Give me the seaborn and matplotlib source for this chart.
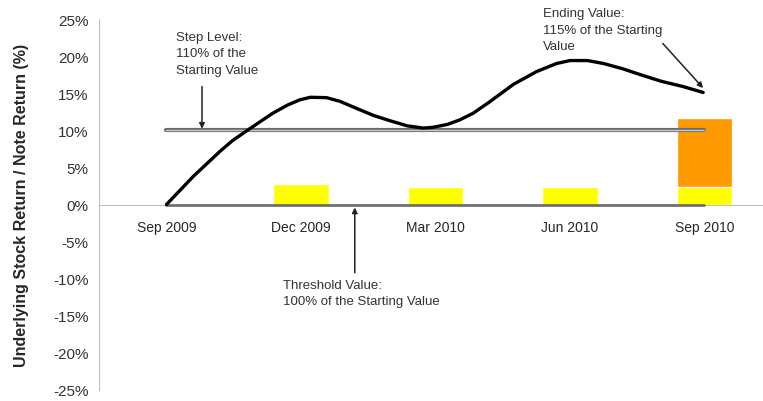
import numpy as np
import pandas as pd
import seaborn as sns
import matplotlib.pyplot as plt
import matplotlib.patheffects as pe

# observation dates (categorical positions 0..4)
dates = ["Sep 2009", "Dec 2009", "Mar 2010", "Jun 2010", "Sep 2010"]

# stock return path (x in date positions, y in %)
path_x = [0.00, 0.10, 0.20, 0.30, 0.40, 0.49, 0.61, 0.70, 0.79, 0.90, 0.99,
          1.07, 1.19, 1.29, 1.42, 1.54, 1.66, 1.79, 1.91, 1.98, 2.09, 2.18,
          2.28, 2.40, 2.58, 2.75, 2.90, 3.00, 3.13, 3.25, 3.39, 3.54, 3.68,
          3.84, 3.99]
path_y = [0.0, 1.9, 3.8, 5.5, 7.2, 8.6, 10.1, 11.2, 12.3, 13.4, 14.1,
          14.45, 14.4, 13.9, 12.9, 12.0, 11.3, 10.6, 10.3, 10.4, 10.8, 11.4,
          12.3, 13.8, 16.2, 17.9, 19.0, 19.4, 19.4, 19.0, 18.3, 17.4, 16.6,
          15.9, 15.1]

# note returns per quarter (yellow = coupon, orange = step payment up to total)
coupon_pos = [1, 2, 3, 4]
coupon = [2.7, 2.4, 2.4, 2.4]
step_pos = [4]
step_total = [11.6]

step_level = 10
threshold = 0

sns.set_style("white")
plt.rcParams['font.family'] = ['Liberation Sans', 'DejaVu Sans']

fig = plt.figure(figsize=(7.63, 4.02), dpi=100)
ax = fig.add_axes([99.5 / 763, 11 / 402, (763 - 99.5) / 763, 371 / 402])

# bars: orange total first, yellow coupon over its base
sns.barplot(x=step_pos, y=step_total, native_scale=True, width=0.41,
            color="#FF9900", saturation=1, ax=ax, zorder=1)
sns.barplot(x=coupon_pos, y=coupon, native_scale=True, width=0.41,
            color="#FFFF00", saturation=1, ax=ax, zorder=2)

# step level line (double-line look)
ax.plot([0, 4], [step_level, step_level], color="#c8c8c8", lw=1, zorder=3,
        path_effects=[pe.Stroke(linewidth=3, foreground="#6a6a6a"), pe.Normal()])
# threshold line
ax.plot([0, 4], [threshold, threshold], color="#707070", lw=2, zorder=3)

sns.lineplot(x=path_x, y=path_y, sort=False, color="black", lw=2.4, ax=ax,
             zorder=4, solid_joinstyle="round", solid_capstyle="round")

ax.set_xlim(-0.498, 4.435)
ax.set_ylim(-25, 25)

yt = np.arange(-25, 30, 5)
ax.set_yticks(yt)
ax.set_yticklabels([f"{v}%" for v in yt], fontsize=11, color="#333333")
ax.set_xticks(range(len(dates)))
ax.set_xticklabels(dates, fontsize=11, color="#333333")
ax.set_xticks([0.5, 1.5, 2.5, 3.5], minor=True)
ax.tick_params(axis="x", which="major", length=0, pad=11)
ax.tick_params(axis="x", which="minor", length=4, width=1, color="#b0b0b0", direction="out")
ax.tick_params(axis="y", length=5, width=1, color="#b0b0b0", direction="out", pad=3)

for s in ["top", "right"]:
    ax.spines[s].set_visible(False)
ax.spines["bottom"].set_position(("data", 0))
ax.spines["bottom"].set_color("#c0c0c0")
ax.spines["left"].set_color("#c0c0c0")
ax.set_ylabel("Underlying Stock Return / Note Return (%)", fontsize=11.5,
              fontweight="bold", labelpad=8)
ax.yaxis.set_label_coords(-0.107, 0.5)
ax.set_xlabel("")

arrow = dict(arrowstyle="-|>", color="#222222", lw=1.1, mutation_scale=8,
             shrinkA=0, shrinkB=0)
txt = dict(fontsize=9.5, color="#333333", va="top", ha="left", linespacing=1.5)

ax.text(0.07, 23.4, "Step Level:\n110% of the\nStarting Value", **txt)
ax.annotate("", xy=(0.264, 10.2), xytext=(0.264, 15.9), arrowprops=arrow)

ax.text(2.80, 26.6, "Ending Value:\n115% of the Starting\nValue", clip_on=False, **txt)
ax.annotate("", xy=(3.99, 15.7), xytext=(3.69, 21.7), arrowprops=arrow)

ax.text(0.866, -10.0, "Threshold Value:\n100% of the Starting Value", **txt)
ax.annotate("", xy=(1.40, -0.4), xytext=(1.40, -9.2), arrowprops=arrow)

fig.savefig("out.png", dpi=100)
